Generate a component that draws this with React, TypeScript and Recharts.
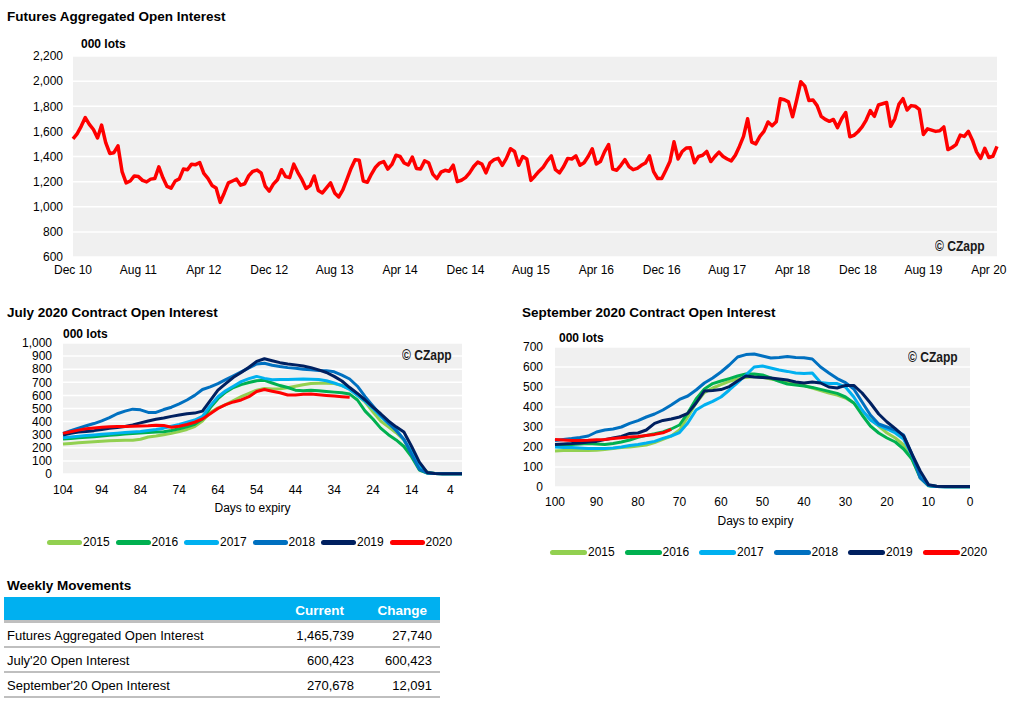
import React from 'react';
import { LineChart, Line, XAxis, YAxis, CartesianGrid } from 'recharts';

// aggregated futures open interest, '000 lots, half-month steps from Dec 2010
const topTickLabels = ['Dec 10', 'Aug 11', 'Apr 12', 'Dec 12', 'Aug 13', 'Apr 14', 'Dec 14', 'Aug 15', 'Apr 16', 'Dec 16', 'Aug 17', 'Apr 18', 'Dec 18', 'Aug 19', 'Apr 20'];
const topTicks = [0, 8, 16, 24, 32, 40, 48, 56, 64, 72, 80, 88, 96, 104, 112];
const openInterest = [
  1540, 1580, 1640, 1710, 1655, 1615, 1548, 1650, 1510, 1424,
  1430, 1485, 1280, 1190, 1205, 1245, 1240, 1210, 1198, 1220,
  1224, 1318, 1230, 1162, 1148, 1205, 1222, 1300, 1295, 1339,
  1335, 1352, 1265, 1226, 1170, 1150, 1035, 1110, 1190, 1205,
  1220, 1172, 1183, 1248, 1282, 1292, 1270, 1165, 1125, 1180,
  1215, 1295, 1240, 1232, 1339, 1272, 1215, 1145, 1168, 1245,
  1130, 1110, 1150, 1190, 1110, 1078, 1135, 1218, 1305, 1375,
  1371, 1205, 1195, 1260, 1315, 1348, 1360, 1300, 1337, 1410,
  1400, 1348, 1332, 1395, 1305, 1300, 1365, 1350, 1260, 1224,
  1275, 1290, 1282, 1331, 1200, 1211, 1232, 1270, 1320, 1355,
  1340, 1270, 1350, 1375, 1385, 1330, 1385, 1462, 1440, 1330,
  1400, 1380, 1210, 1245, 1283, 1315, 1365, 1405, 1295, 1270,
  1320, 1385, 1380, 1405, 1330, 1350, 1400, 1462, 1340, 1360,
  1437, 1495, 1300, 1291, 1330, 1375, 1320, 1295, 1305, 1330,
  1348, 1405, 1280, 1225, 1225, 1290, 1360, 1517, 1380, 1440,
  1468, 1470, 1350, 1400, 1410, 1440, 1360, 1400, 1435, 1400,
  1380, 1365, 1410, 1480, 1560, 1700, 1515, 1500, 1560, 1600,
  1675, 1645, 1676, 1860, 1852, 1835, 1716, 1850, 1995, 1960,
  1845, 1850, 1805, 1720, 1695, 1680, 1695, 1630, 1700, 1750,
  1557, 1568, 1597, 1635, 1690, 1765, 1720, 1810, 1820, 1830,
  1640, 1700, 1815, 1860, 1770, 1805, 1800, 1775, 1575, 1620,
  1610, 1600, 1605, 1635, 1455, 1472, 1495, 1570, 1560, 1600,
  1530, 1437, 1385, 1465, 1392, 1402, 1480,
];

// July contract, days to expiry
const julyDays = [104, 102, 100, 98, 96, 94, 92, 90, 88, 86, 84, 82, 80, 78, 76, 74, 72, 70, 68, 66, 64, 62, 60, 58, 56, 54, 52, 50, 48, 46, 44, 42, 40, 38, 36, 34, 32, 30, 28, 26, 24, 22, 20, 18, 16, 14, 12, 10, 8, 6, 4, 2, 1];
const july2015 = [229, 233, 238, 242, 246, 250, 253, 256, 258, 257, 265, 282, 290, 300, 310, 325, 340, 362, 405, 470, 505, 530, 560, 590, 615, 640, 652, 648, 650, 658, 670, 682, 690, 692, 692, 690, 675, 650, 600, 550, 475, 405, 360, 315, 260, 150, 70, 15, 4, 2, 1, 1, 1];
const july2016 = [267, 271, 276, 280, 285, 290, 295, 300, 305, 310, 313, 316, 320, 323, 332, 345, 360, 380, 420, 505, 575, 625, 660, 682, 698, 712, 715, 695, 675, 660, 640, 635, 640, 635, 630, 625, 620, 610, 565, 480, 420, 350, 300, 260, 210, 130, 30, 6, 3, 1, 1, 1, 1];
const july2017 = [277, 282, 288, 293, 298, 303, 308, 312, 316, 320, 325, 332, 340, 350, 365, 378, 395, 412, 440, 520, 590, 635, 670, 705, 728, 745, 730, 720, 722, 722, 723, 725, 723, 722, 712, 695, 675, 645, 600, 555, 500, 440, 385, 340, 260, 170, 60, 10, 3, 1, 1, 1, 1];
const july2018 = [310, 330, 350, 368, 385, 405, 430, 460, 480, 495, 490, 470, 470, 492, 510, 535, 565, 600, 645, 665, 690, 720, 750, 780, 810, 840, 845, 830, 820, 812, 807, 800, 795, 790, 789, 780, 755, 725, 670, 590, 520, 450, 390, 330, 265, 150, 35, 8, 3, 1, 1, 1, 1];
const july2019 = [298, 310, 320, 325, 331, 340, 349, 355, 363, 375, 390, 405, 418, 428, 440, 450, 460, 465, 480, 560, 640, 690, 738, 775, 815, 860, 880, 865, 850, 840, 833, 825, 812, 795, 775, 745, 710, 660, 615, 565, 510, 460, 405, 360, 320, 210, 90, 12, 4, 2, 2, 2, 2];
const july2020 = [310, 322, 335, 345, 352, 356, 360, 362, 362, 364, 366, 368, 372, 370, 357, 365, 378, 395, 420, 460, 500, 530, 550, 565, 590, 630, 645, 632, 620, 603, 603, 608, 610, 605, 600, 595, 590, 585, null, null, null, null, null, null, null, null, null, null, null, null, null, null, null];

// September contract, days to expiry
const sepDays = [100, 98, 96, 94, 92, 90, 88, 86, 84, 82, 80, 78, 76, 74, 72, 70, 68, 66, 64, 62, 60, 58, 56, 54, 52, 50, 48, 46, 44, 42, 40, 38, 36, 34, 32, 30, 28, 26, 24, 22, 20, 18, 16, 14, 12, 10, 8, 6, 4, 2, 0];
const sep2015 = [180, 182, 183, 183, 183, 184, 188, 192, 197, 200, 205, 210, 222, 238, 255, 285, 350, 420, 472, 495, 512, 528, 540, 548, 552, 548, 540, 533, 525, 515, 508, 495, 482, 470, 460, 445, 420, 380, 340, 305, 270, 245, 210, 140, 55, 8, 3, 2, 1, 1, 1];
const sep2016 = [208, 210, 212, 215, 217, 215, 213, 218, 225, 235, 248, 258, 266, 275, 290, 310, 370, 440, 490, 517, 530, 542, 555, 565, 565, 560, 545, 528, 515, 510, 505, 498, 488, 478, 468, 450, 420, 360, 305, 270, 245, 225, 190, 140, 45, 6, 2, 1, 1, 1, 1];
const sep2017 = [200, 198, 197, 195, 193, 192, 192, 195, 200, 207, 213, 220, 228, 243, 255, 272, 320, 385, 410, 428, 450, 485, 522, 560, 600, 605, 595, 585, 578, 570, 567, 570, 522, 517, 517, 500, 450, 385, 335, 308, 290, 270, 240, 160, 55, 8, 2, 1, 1, 1, 1];
const sep2018 = [233, 238, 242, 248, 255, 275, 285, 290, 300, 318, 332, 350, 365, 385, 410, 438, 455, 485, 520, 545, 575, 610, 650, 662, 665, 655, 645, 648, 652, 648, 646, 640, 600, 570, 542, 522, 490, 425, 360, 315, 300, 285, 260, 165, 45, 8, 2, 1, 1, 1, 1];
const sep2019 = [213, 215, 217, 220, 225, 228, 237, 245, 253, 268, 270, 285, 318, 333, 340, 350, 368, 420, 480, 483, 487, 502, 530, 555, 550, 548, 545, 540, 535, 525, 520, 525, 520, 500, 495, 508, 508, 470, 420, 365, 325, 292, 255, 165, 80, 12, 4, 2, 2, 2, 2];
const sep2020 = [237, 235, 233, 233, 234, 236, 238, 242, 246, 250, 253, 258, 263, 271, 288, null, null, null, null, null, null, null, null, null, null, null, null, null, null, null, null, null, null, null, null, null, null, null, null, null, null, null, null, null, null, null, null, null, null, null, null];

const years = [
  { key: 'y2015', label: '2015', color: '#92d050' },
  { key: 'y2016', label: '2016', color: '#00b050' },
  { key: 'y2017', label: '2017', color: '#00b0f0' },
  { key: 'y2018', label: '2018', color: '#0070c0' },
  { key: 'y2019', label: '2019', color: '#002060' },
  { key: 'y2020', label: '2020', color: '#ff0000' },
];

const tableRows = [
  { name: 'Futures Aggregated Open Interest', current: '1,465,739', change: '27,740' },
  { name: "July'20 Open Interest", current: '600,423', change: '600,423' },
  { name: "September'20 Open Interest", current: '270,678', change: '12,091' },
];

const topData = openInterest.map((v, i) => ({ m: i / 2, oi: v }));
const julyData = julyDays.map((d, i) => ({
  day: d, y2015: july2015[i], y2016: july2016[i], y2017: july2017[i],
  y2018: july2018[i], y2019: july2019[i], y2020: july2020[i],
}));
const sepData = sepDays.map((d, i) => ({
  day: d, y2015: sep2015[i], y2016: sep2016[i], y2017: sep2017[i],
  y2018: sep2018[i], y2019: sep2019[i], y2020: sep2020[i],
}));

const fmt = (v: number) => v.toLocaleString('en-US');
const tickStyle = { fontSize: 12, fill: '#000' };

const Txt = ({ x, y, children, bold = true, size = 13.5, style = {} }: any) => (
  <div style={{ position: 'absolute', left: x, top: y, fontSize: size, lineHeight: `${Math.round(size + 2)}px`, fontWeight: bold ? 'bold' : 'normal', whiteSpace: 'nowrap', ...style }}>
    {children}
  </div>
);

// narrow bold watermark
const Stamp = ({ x, y }: any) => (
  <div style={{ position: 'absolute', left: x, top: y, fontSize: 14, lineHeight: '16px', fontWeight: 'bold', color: '#1a1a1a', whiteSpace: 'nowrap', transform: 'scaleX(0.86)', transformOrigin: 'left center' }}>
    © CZapp
  </div>
);

const YearLegend = ({ x, y, pitch, swatch }: any) => (
  <>
    {years.map((s, i) => (
      <div key={s.key} style={{ position: 'absolute', left: x + i * pitch, top: y - 8, height: 16, display: 'flex', alignItems: 'center', fontSize: 12 }}>
        <div style={{ width: swatch, height: 5, borderRadius: 3, background: s.color, marginRight: 1 }} />
        <span>{s.label}</span>
      </div>
    ))}
  </>
);

const ContractChart = ({ data, left, top, width, height, marginTop, marginRight, yWidth, yMax, yTickMargin, xHeight, xTickMargin, xDomain, xTicks, labelOffset, labelDx }: any) => {
  const yTicks: number[] = [];
  for (let t = 0; t <= yMax; t += 100) yTicks.push(t);
  return (
    <div style={{ position: 'absolute', left, top }}>
      <LineChart width={width} height={height} data={data} margin={{ top: marginTop, right: marginRight, left: 0, bottom: 0 }}>
        <CartesianGrid fill="#f0f0f0" stroke="#ffffff" strokeWidth={1.5} vertical={false} />
        <XAxis
          dataKey="day"
          type="number"
          domain={xDomain}
          ticks={xTicks}
          reversed
          interval={0}
          axisLine={false}
          tickLine={false}
          tick={tickStyle}
          tickMargin={xTickMargin}
          height={xHeight}
          label={{ value: 'Days to expiry', position: 'insideBottom', offset: labelOffset, dx: labelDx, fill: '#000', fontSize: 12 }}
        />
        <YAxis
          type="number"
          domain={[0, yMax]}
          ticks={yTicks}
          interval={0}
          axisLine={false}
          tickLine={false}
          tick={tickStyle}
          tickMargin={yTickMargin}
          tickFormatter={fmt}
          width={yWidth}
        />
        {years.map((s) => (
          <Line key={s.key} dataKey={s.key} type="linear" stroke={s.color} strokeWidth={3} dot={false} activeDot={false} isAnimationActive={false} strokeLinejoin="round" />
        ))}
      </LineChart>
    </div>
  );
};

export default function App() {
  return (
    <div style={{ position: 'absolute', left: 0, top: 0, width: 1017, height: 701, background: '#fff', fontFamily: "Arial, 'Liberation Sans', sans-serif", color: '#000' }}>
      <Txt x={7} y={9}>Futures Aggregated Open Interest</Txt>
      <div style={{ position: 'absolute', left: 0, top: 40 }}>
        <LineChart width={1010} height={245} data={topData} margin={{ top: 16, right: 13, left: 0, bottom: 0 }}>
          <CartesianGrid fill="#f0f0f0" stroke="#ffffff" strokeWidth={1.5} vertical={false} />
          <XAxis
            dataKey="m"
            type="number"
            domain={[0, 113]}
            ticks={topTicks}
            interval={0}
            tickFormatter={(v: number) => topTickLabels[v / 8]}
            axisLine={false}
            tickLine={false}
            tick={tickStyle}
            height={28}
          />
          <YAxis
            type="number"
            domain={[600, 2200]}
            ticks={[600, 800, 1000, 1200, 1400, 1600, 1800, 2000, 2200]}
            interval={0}
            tickFormatter={fmt}
            axisLine={false}
            tickLine={false}
            tick={tickStyle}
            tickMargin={4}
            width={73}
          />
          <Line dataKey="oi" type="linear" stroke="#ff0000" strokeWidth={3.5} dot={false} activeDot={false} isAnimationActive={false} strokeLinejoin="round" />
        </LineChart>
      </div>
      <Txt x={81} y={37} size={12}>000 lots</Txt>
      <Stamp x={935} y={238} />

      <Txt x={7} y={305}>July 2020 Contract Open Interest</Txt>
      <ContractChart
        data={julyData} left={0} top={330} width={470} height={190}
        marginTop={13} marginRight={8} yWidth={63} yMax={1000} yTickMargin={5}
        xHeight={46} xTickMargin={5} xDomain={[1, 104]}
        xTicks={[104, 94, 84, 74, 64, 54, 44, 34, 24, 14, 4]}
        labelOffset={8} labelDx={-10}
      />
      <Txt x={63} y={327} size={12}>000 lots</Txt>
      <Stamp x={402} y={347} />
      <YearLegend x={47} y={542} pitch={68.5} swatch={35} />

      <Txt x={522} y={305}>September 2020 Contract Open Interest</Txt>
      <ContractChart
        data={sepData} left={490} top={330} width={490} height={200}
        marginTop={17} marginRight={10} yWidth={65} yMax={700} yTickMargin={6}
        xHeight={43} xTickMargin={4} xDomain={[0, 100]}
        xTicks={[100, 90, 80, 70, 60, 50, 40, 30, 20, 10, 0]}
        labelOffset={5} labelDx={-7}
      />
      <Txt x={559} y={331} size={12}>000 lots</Txt>
      <Stamp x={908} y={349} />
      <YearLegend x={550} y={552} pitch={74.5} swatch={37} />

      <Txt x={7} y={578}>Weekly Movements</Txt>
      <div style={{ position: 'absolute', left: 4, top: 597, width: 436 }}>
        <div style={{ position: 'relative', height: 23, background: '#00b0f0', borderBottom: '3px solid #bfbfbf', color: '#fff', fontWeight: 'bold', fontSize: 13.5 }}>
          <span style={{ position: 'absolute', right: 96, top: 6 }}>Current</span>
          <span style={{ position: 'absolute', right: 13, top: 6 }}>Change</span>
        </div>
        {tableRows.map((r) => (
          <div key={r.name} style={{ position: 'relative', height: 23, borderBottom: '2px solid #bfbfbf', fontSize: 13 }}>
            <span style={{ position: 'absolute', left: 3, top: 5 }}>{r.name}</span>
            <span style={{ position: 'absolute', right: 86, top: 5 }}>{r.current}</span>
            <span style={{ position: 'absolute', right: 8, top: 5 }}>{r.change}</span>
          </div>
        ))}
      </div>
    </div>
  );
}
